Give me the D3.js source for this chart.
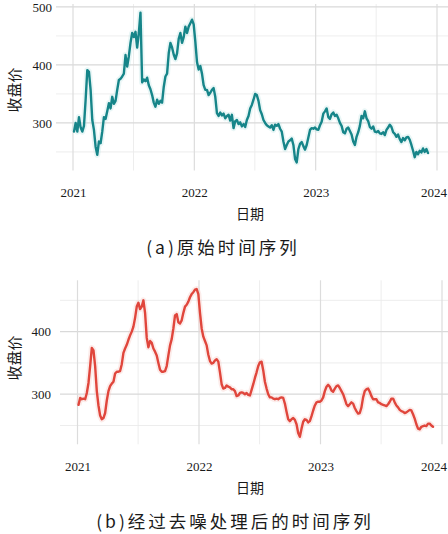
<!DOCTYPE html>
<html>
<head>
<meta charset="utf-8">
<script src="https://cdn.jsdelivr.net/npm/d3@7"></script>
<style>
  html, body { margin: 0; padding: 0; background: #fff; }
  svg { display: block; }
</style>
</head>
<body>
<svg id="chart" width="448" height="534"></svg>
<script>
// Closing prices, one reading every 5 calendar days from 2021-01-04
const startDate = "2021-01-04";
const stepDays = 5;

const rawClose = [
  285, 300, 285, 310, 292, 285, 295, 340, 391, 388,
  357, 305, 288, 259, 245, 268, 265, 285, 310, 307,
  320, 334, 325, 345, 333, 338, 357, 374, 376, 380,
  385, 417, 397, 415, 438, 455, 448, 457, 430, 455,
  490, 370, 375, 372, 378, 365, 358, 348, 335, 328,
  340, 333, 338, 335, 362, 380, 385, 420, 438, 430,
  418, 410, 420, 445, 455, 438, 448, 466, 455, 466,
  472, 478, 470, 440, 405, 392, 398, 385, 365, 357,
  357, 348, 352, 357, 360, 345, 317, 312, 318, 313,
  316, 308, 312, 314, 304, 314, 291, 303, 305, 298,
  301, 294, 298, 293, 305, 312, 325, 331, 340, 350,
  348, 338, 322, 315, 305, 300, 296, 294, 292, 296,
  288, 297, 295, 298, 290, 285, 268, 255, 262, 268,
  270, 273, 262, 238, 232, 255, 264, 267, 260, 254,
  262, 275, 288, 291, 290, 292, 289, 288, 296, 302,
  316, 320, 325, 310, 307, 315, 318, 312, 314, 308,
  300, 295, 284, 282, 290, 292, 286, 280, 268, 262,
  276, 284, 295, 312, 308, 320, 308, 303, 293, 290,
  294, 285, 284, 286, 282, 281, 284, 279, 288, 292,
  297, 293, 284, 281, 276, 280, 272, 267, 274, 270,
  275, 276, 271, 262, 252, 241, 250, 246, 252, 249,
  256, 250, 255, 248
];

const denoisedClose = [
  283, 294, 292, 293, 292, 302, 318, 345, 374, 370,
  345, 305, 282, 266, 260, 262, 270, 290, 305, 313,
  317, 320, 333, 336, 336, 337, 348, 366, 373, 379,
  387, 394, 400, 408, 422, 440, 446, 436, 440, 450,
  430, 390, 375, 385, 382, 373, 368, 362, 350, 339,
  336, 336, 337, 345, 362, 378, 388, 405, 426, 428,
  415, 413, 418, 430, 440, 443, 448, 455, 460, 463,
  467, 468, 460, 430, 405, 392, 385, 378, 363, 353,
  349, 350, 354, 356, 352, 335, 316, 309, 310, 314,
  312, 311, 308, 308, 305, 297, 298, 302, 303, 302,
  300, 302, 299, 298, 307, 316, 326, 335, 345, 351,
  352, 338, 320, 309, 300, 295, 295, 293, 292, 293,
  292, 294, 295, 294, 285, 272, 260, 257, 260, 262,
  259, 252, 238, 232, 245, 256, 260, 259, 255, 257,
  265, 274, 282, 287, 288, 288, 290, 295, 305, 312,
  315, 312, 306, 304, 309, 313, 314, 310, 305, 300,
  292, 284, 281, 284, 287, 285, 278, 273, 269, 270,
  279, 295, 305, 308, 309, 304, 297, 292, 292, 292,
  287, 286, 284, 283, 282, 281, 284, 288, 293, 293,
  287, 282, 279, 275, 273, 272, 270, 271, 273, 275,
  274, 268, 261, 252, 245, 244, 248, 249, 250, 249,
  253, 253, 250, 248
];

const yearTicks = ["2021-01-01", "2022-01-01", "2023-01-01", "2024-01-01"];
const halfYearTicks = ["2021-07-02", "2022-07-02", "2023-07-02"];
const topMajorY = [300, 400, 500];
const topMinorY = [250, 350, 450];
const bottomMajorY = [300, 400];
const bottomMinorY = [250, 350, 450];

const xLabel = "日期";
const yLabel = "收盘价";
const captionA = "(a)原始时间序列";
const captionB = "(b)经过去噪处理后的时间序列";

const parse = d3.timeParse("%Y-%m-%d");
const t0 = parse(startDate);
const toSeries = vals => vals.map((v, i) => ({ date: d3.timeDay.offset(t0, i * stepDays), value: v }));

const W = 448;
const svg = d3.select("#chart");
const cjk = "'Noto Sans CJK SC', 'Noto Sans', sans-serif";
const serif = "'Liberation Serif', 'DejaVu Serif', serif";

function drawPanel(opt) {
  const g = svg.append("g");
  const x = d3.scaleTime()
    .domain([parse(yearTicks[0]), parse(yearTicks[3])])
    .range([opt.x2021, opt.x2024]);
  const y = d3.scaleLinear().domain(opt.yDomain).range([opt.bottom, opt.top]);

  // minor grid
  g.append("g").selectAll("line").data(opt.minorY).join("line")
    .attr("x1", opt.left).attr("x2", W)
    .attr("y1", d => y(d)).attr("y2", d => y(d))
    .attr("stroke", "#ebebeb").attr("stroke-width", 0.9);
  g.append("g").selectAll("line").data(halfYearTicks.map(parse)).join("line")
    .attr("x1", d => x(d)).attr("x2", d => x(d))
    .attr("y1", opt.top).attr("y2", opt.bottom)
    .attr("stroke", "#ebebeb").attr("stroke-width", 0.9);
  // major grid
  g.append("g").selectAll("line").data(opt.majorY).join("line")
    .attr("x1", opt.left).attr("x2", W)
    .attr("y1", d => y(d)).attr("y2", d => y(d))
    .attr("stroke", "#d9d9d9").attr("stroke-width", 1.2);
  g.append("g").selectAll("line").data(yearTicks.map(parse)).join("line")
    .attr("x1", d => x(d)).attr("x2", d => x(d))
    .attr("y1", opt.top).attr("y2", opt.bottom)
    .attr("stroke", "#dcdcdc").attr("stroke-width", 1.2);

  // axes (labels only, no domain lines)
  const xAxis = d3.axisBottom(x).tickValues(yearTicks.map(parse))
    .tickFormat(d3.timeFormat("%Y")).tickSize(0).tickPadding(0);
  const xg = g.append("g").attr("transform", `translate(0,${opt.xTickY})`).call(xAxis);
  const yAxis = d3.axisLeft(y).tickValues(opt.majorY).tickSize(0).tickPadding(0);
  const yg = g.append("g").attr("transform", `translate(${opt.yTickX},0)`).call(yAxis);
  [xg, yg].forEach(a => {
    a.select(".domain").remove();
    a.selectAll("text").attr("font-family", serif).attr("font-size", 13).attr("fill", "#1a1a1a");
  });
  xg.selectAll("text").attr("dy", "0.35em");
  // keep the last year label inside the page edge
  xg.selectAll(".tick").each(function () {
    const tk = d3.select(this);
    const txt = tk.select("text");
    const m = /translate\(([-\d.]+)/.exec(tk.attr("transform"));
    const cx = m ? +m[1] : 0;
    const half = txt.node().getComputedTextLength() / 2;
    if (cx + half > W - 1) txt.attr("x", W - 1 - half - cx);
  });

  // series
  const series = toSeries(opt.values);
  const line = d3.line().x(d => x(d.date)).y(d => y(d.value)).curve(d3.curveLinear);
  g.append("path").datum(series).attr("d", line)
    .attr("fill", "none").attr("stroke", opt.halo).attr("stroke-width", 6)
    .attr("stroke-linejoin", "round").attr("opacity", 0.35);
  g.append("path").datum(series).attr("d", line)
    .attr("fill", "none").attr("stroke", opt.color).attr("stroke-width", 2.4)
    .attr("stroke-linejoin", "round").attr("stroke-linecap", "round");

  // titles
  g.append("text").attr("x", 250).attr("y", opt.xTitleY).attr("text-anchor", "middle")
    .attr("dominant-baseline", "central")
    .attr("font-family", cjk).attr("font-size", 14).attr("fill", "#1a1a1a").text(xLabel);
  g.append("text")
    .attr("transform", `translate(13,${opt.yTitleY}) rotate(-90)`)
    .attr("text-anchor", "middle").attr("dominant-baseline", "central")
    .attr("font-family", cjk).attr("font-size", 15).attr("fill", "#1a1a1a").text(yLabel);
  g.append("text").attr("x", opt.capX).attr("y", opt.capY).attr("text-anchor", "middle")
    .attr("dominant-baseline", "central")
    .attr("font-family", cjk).attr("font-size", 17.5).attr("letter-spacing", 3)
    .attr("fill", "#1a1a1a").text(opt.caption);
}

drawPanel({
  values: rawClose, color: "#168589", halo: "#bfe6e6",
  x2021: 73, x2024: 437, left: 56,
  yDomain: [218, 505], top: 4, bottom: 170.5,
  majorY: topMajorY, minorY: topMinorY,
  xTickY: 192, yTickX: 52, xTitleY: 213, yTitleY: 90,
  caption: captionA, capX: 223, capY: 246
});

drawPanel({
  values: denoisedClose, color: "#e0463c", halo: "#f6c9c4",
  x2021: 77.5, x2024: 442, left: 60,
  yDomain: [220, 482], top: 280.3, bottom: 444.3,
  majorY: bottomMajorY, minorY: bottomMinorY,
  xTickY: 466, yTickX: 51, xTitleY: 487, yTitleY: 358,
  caption: captionB, capX: 235, capY: 520
});
</script>
</body>
</html>
